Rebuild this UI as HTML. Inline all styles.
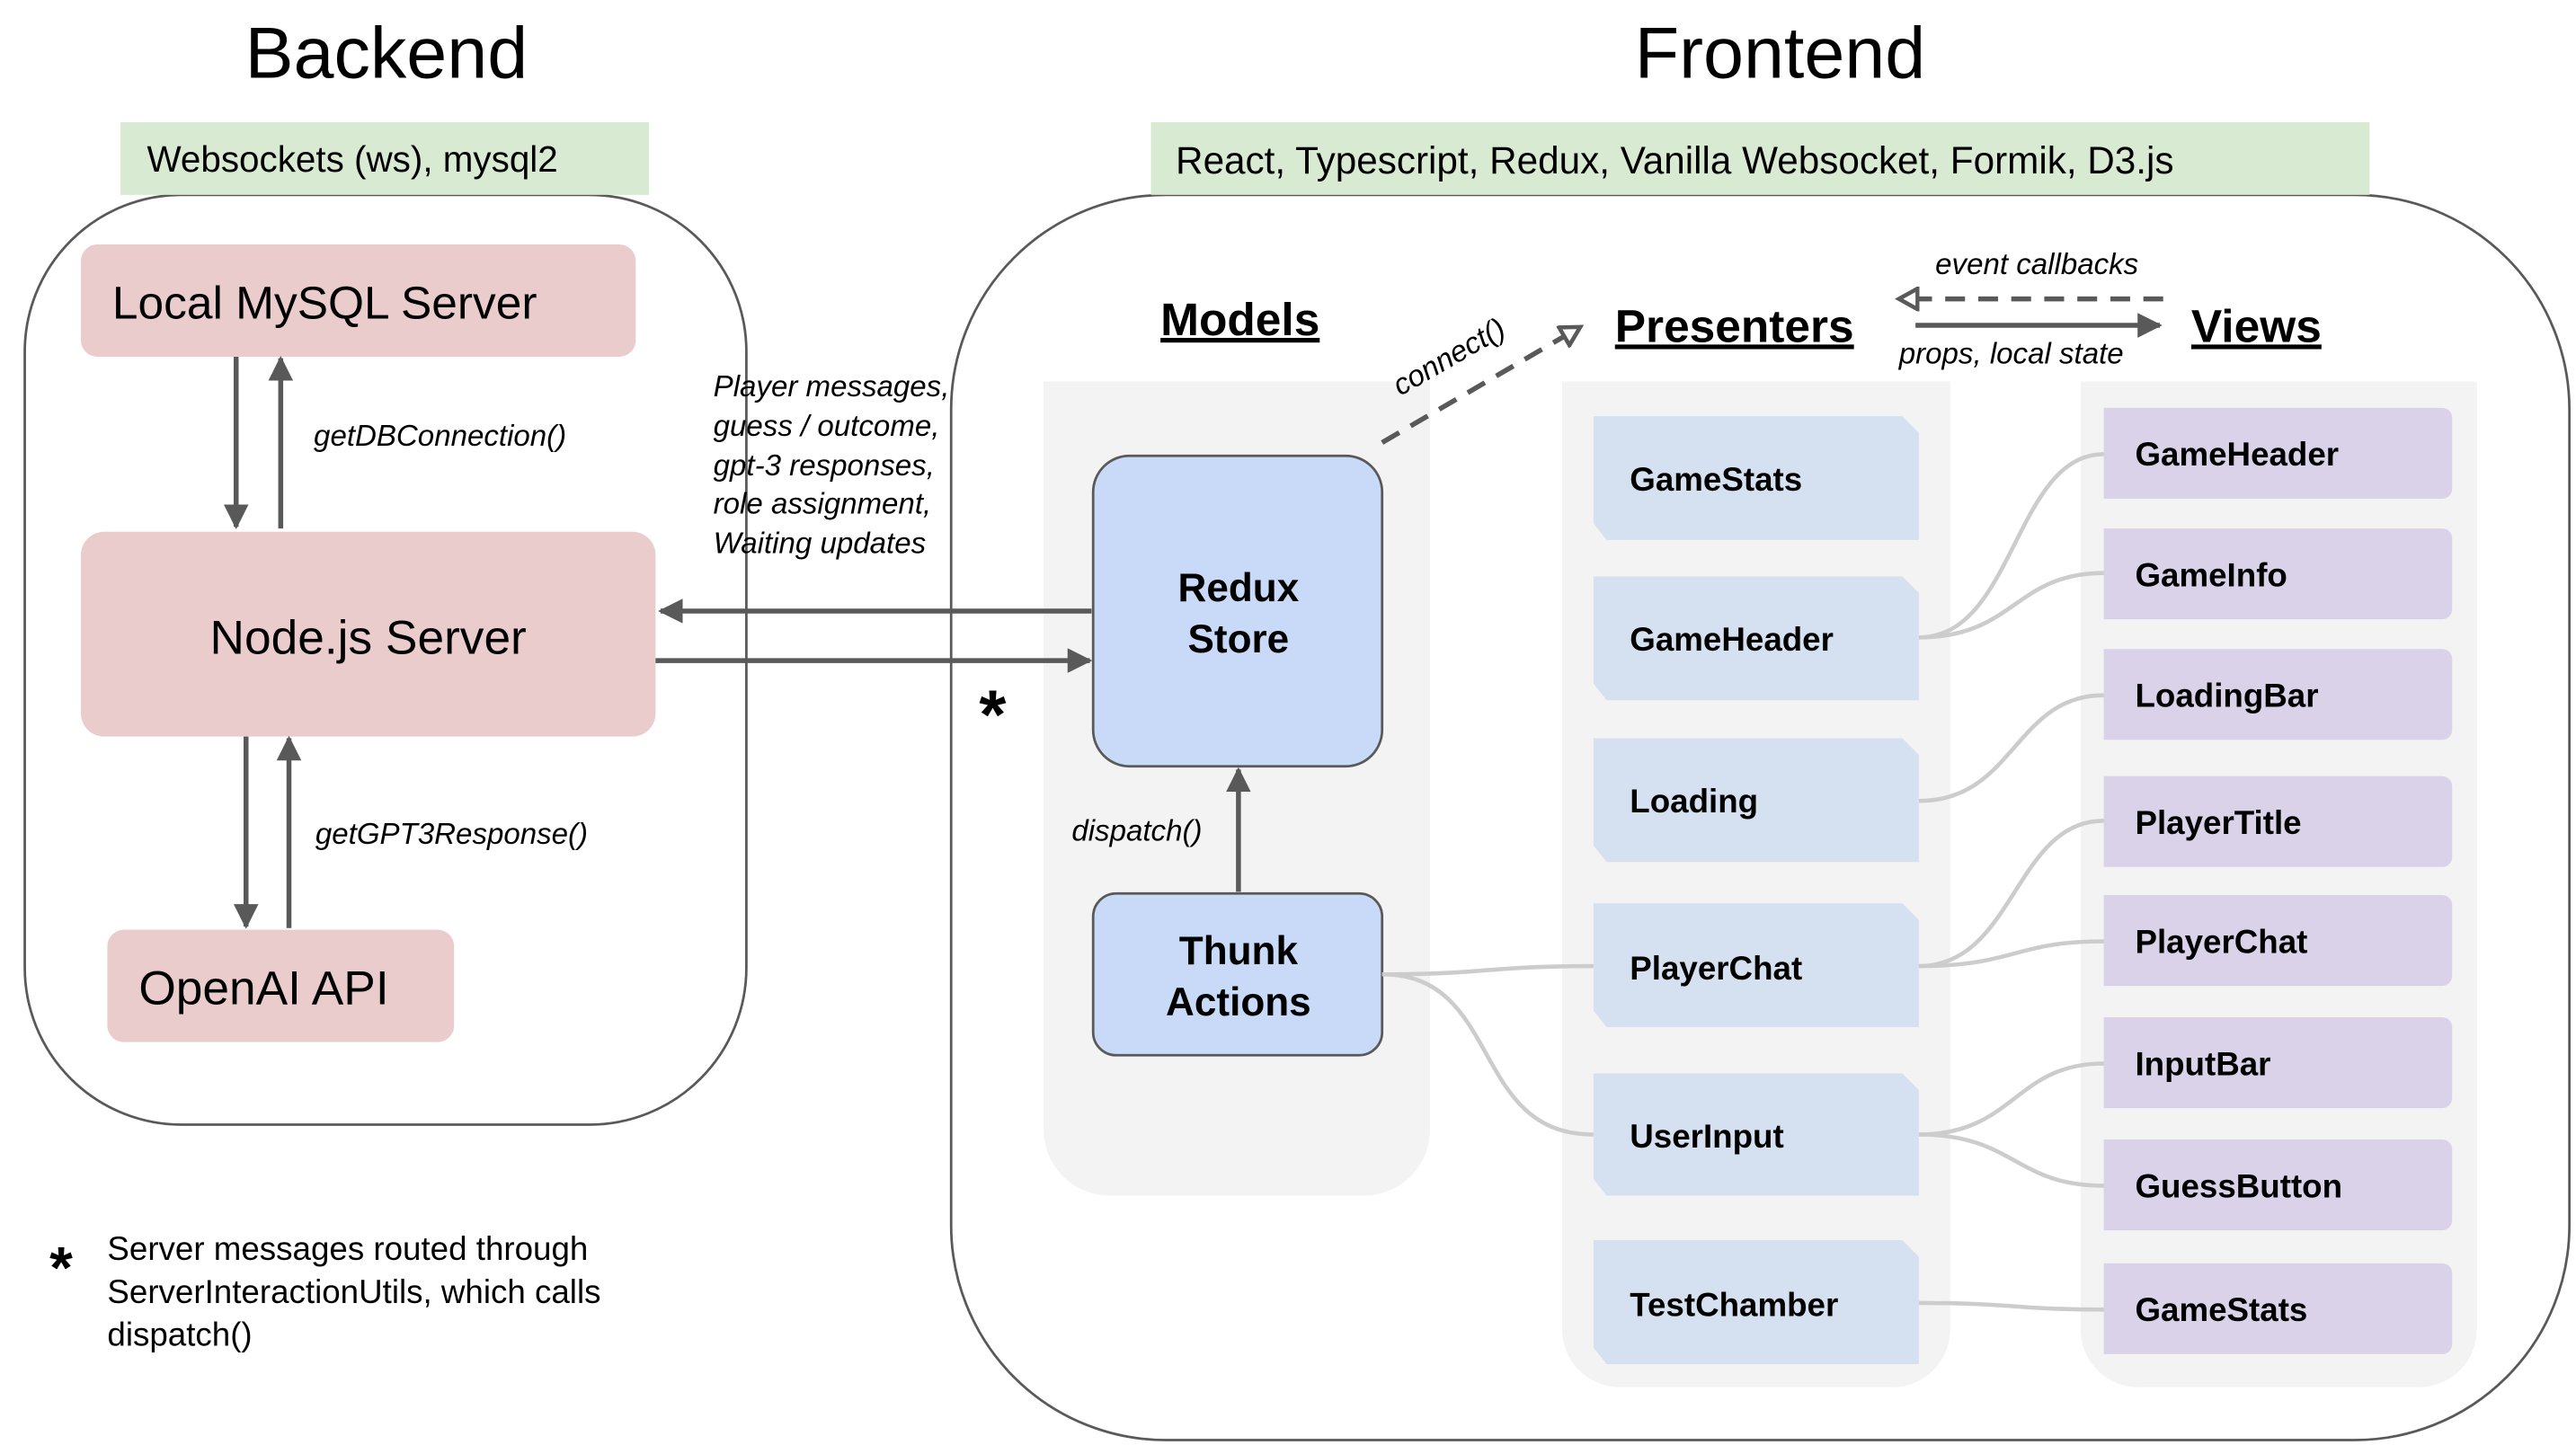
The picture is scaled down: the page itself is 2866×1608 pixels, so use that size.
<!DOCTYPE html>
<html><head><meta charset="utf-8"><style>
html,body{margin:0;padding:0;background:#fff;width:2866px;height:1608px;overflow:hidden}
svg{display:block}
text{font-family:"Liberation Sans",Arial,sans-serif;fill:#000}
.it{font-style:italic;font-size:18px}
.pb{font-weight:bold;font-size:20px}
</style></head><body>
<svg width="2866" height="1608" viewBox="0 0 1560 875" preserveAspectRatio="none" xmlns="http://www.w3.org/2000/svg">
<defs>
<marker id="ah" viewBox="0 0 10 10" refX="9" refY="5" markerWidth="5" markerHeight="5" orient="auto-start-reverse" markerUnits="strokeWidth">
<path d="M0,0 L10,5 L0,10 z" fill="#595959"/></marker>
<marker id="oh" viewBox="0 0 12 12" refX="10" refY="6" markerWidth="5" markerHeight="5" orient="auto" markerUnits="strokeWidth">
<path d="M1,1 L10,6 L1,11 z" fill="#fff" stroke="#595959" stroke-width="2"/></marker>
</defs>

<text x="234" y="47" font-size="44" text-anchor="middle">Backend</text>
<text x="1078" y="47" font-size="44" text-anchor="middle">Frontend</text>

<rect x="15" y="118" width="437" height="563" rx="95" ry="95" fill="none" stroke="#595959" stroke-width="1.5"/>
<rect x="576" y="118" width="980" height="754" rx="130" ry="130" fill="none" stroke="#595959" stroke-width="1.5"/>

<rect x="73" y="74" width="320" height="44" fill="#d9ead3"/>
<text x="89" y="104" font-size="22">Websockets (ws), mysql2</text>
<rect x="697" y="74" width="738" height="44" fill="#d9ead3"/>
<text x="712" y="105" font-size="23">React, Typescript, Redux, Vanilla Websocket, Formik, D3.js</text>

<rect x="49" y="148" width="336" height="68" rx="10" fill="#eacccc"/>
<text x="68" y="193" font-size="28">Local MySQL Server</text>
<rect x="49" y="322" width="348" height="124" rx="14" fill="#eacccc"/>
<text x="223" y="396" font-size="29" text-anchor="middle">Node.js Server</text>
<rect x="65" y="563" width="210" height="68" rx="10" fill="#eacccc"/>
<text x="84" y="608" font-size="29">OpenAI API</text>

<g stroke="#595959" stroke-width="3" fill="none">
<line x1="143" y1="216" x2="143" y2="319" marker-end="url(#ah)"/>
<line x1="170" y1="320" x2="170" y2="217" marker-end="url(#ah)"/>
<line x1="149" y1="446" x2="149" y2="561" marker-end="url(#ah)"/>
<line x1="175" y1="562" x2="175" y2="447" marker-end="url(#ah)"/>
</g>
<text class="it" x="190" y="270">getDBConnection()</text>
<text class="it" x="191" y="511">getGPT3Response()</text>
<text class="it" x="432" y="240">Player messages,</text>
<text class="it" x="432" y="264">guess / outcome,</text>
<text class="it" x="432" y="288">gpt-3 responses,</text>
<text class="it" x="432" y="311">role assignment,</text>
<text class="it" x="432" y="335">Waiting updates</text>
<text x="593" y="447" font-size="42" font-weight="bold">*</text>

<path d="M632,231 H866 V684 a40,40 0 0 1 -40,40 H672 a40,40 0 0 1 -40,-40 Z" fill="#f3f3f3"/>
<path d="M946,231 H1181 V805 a35,35 0 0 1 -35,35 H981 a35,35 0 0 1 -35,-35 Z" fill="#f3f3f3"/>
<path d="M1260,231 H1500 V805 a35,35 0 0 1 -35,35 H1295 a35,35 0 0 1 -35,-35 Z" fill="#f3f3f3"/>

<text x="751" y="203" font-size="28" font-weight="bold" text-anchor="middle" text-decoration="underline">Models</text>
<text x="978" y="207" font-size="28" font-weight="bold" text-decoration="underline">Presenters</text>
<text x="1327" y="207" font-size="28" font-weight="bold" text-decoration="underline">Views</text>

<rect x="662" y="276" width="175" height="188" rx="22" fill="#c9daf8" stroke="#595959" stroke-width="1.5"/>
<text x="750" y="364" font-size="24" font-weight="bold" text-anchor="middle">Redux</text>
<text x="750" y="395" font-size="24" font-weight="bold" text-anchor="middle">Store</text>
<rect x="662" y="541" width="175" height="98" rx="14" fill="#c9daf8" stroke="#595959" stroke-width="1.5"/>
<text x="750" y="584" font-size="24" font-weight="bold" text-anchor="middle">Thunk</text>
<text x="750" y="615" font-size="24" font-weight="bold" text-anchor="middle">Actions</text>
<text class="it" x="649" y="509">dispatch()</text>

<line x1="837" y1="268" x2="957" y2="198" stroke="#595959" stroke-width="3" stroke-dasharray="12,8" marker-end="url(#oh)"/>
<text class="it" x="848" y="240" transform="rotate(-30 848 240)">connect()</text>

<line x1="1310" y1="181" x2="1150" y2="181" stroke="#595959" stroke-width="3" stroke-dasharray="12,8" marker-end="url(#oh)"/>
<text class="it" x="1172" y="166" font-size="17">event callbacks</text>
<line x1="1160" y1="197" x2="1308" y2="197" stroke="#595959" stroke-width="3" marker-end="url(#ah)"/>
<text class="it" x="1150" y="220" font-size="17">props, local state</text>

<g stroke="#cccccc" stroke-width="2.5" fill="none">
<path d="M1162,386 C1220,386 1220,275 1274,275"/>
<path d="M1162,386 C1220,386 1220,347 1274,347"/>
<path d="M1162,485 C1220,485 1220,421 1274,421"/>
<path d="M1162,585 C1220,585 1220,497 1274,497"/>
<path d="M1162,585 C1220,585 1220,570 1274,570"/>
<path d="M1162,687 C1220,687 1220,644 1274,644"/>
<path d="M1162,687 C1220,687 1220,718 1274,718"/>
<path d="M1162,789 C1220,789 1220,793 1274,793"/>
<path d="M837,590 C900,590 900,585 965,585"/>
<path d="M837,590 C910,590 890,687 965,687"/>
</g>

<g fill="#d5e1f0">
<path d="M965,252 H1152 L1162,262 V327 H973 L965,317 Z"/>
<path d="M965,349 H1152 L1162,359 V424 H973 L965,414 Z"/>
<path d="M965,447 H1152 L1162,457 V522 H973 L965,512 Z"/>
<path d="M965,547 H1152 L1162,557 V622 H973 L965,612 Z"/>
<path d="M965,650 H1152 L1162,660 V724 H973 L965,714 Z"/>
<path d="M965,751 H1152 L1162,761 V826 H973 L965,816 Z"/>
</g>
<text class="pb" x="987" y="297">GameStats</text>
<text class="pb" x="987" y="394">GameHeader</text>
<text class="pb" x="987" y="492">Loading</text>
<text class="pb" x="987" y="593">PlayerChat</text>
<text class="pb" x="987" y="695">UserInput</text>
<text class="pb" x="987" y="797">TestChamber</text>

<g fill="#d9d2e9">
<path d="M1274,247 H1479 a6,6 0 0 1 6,6 V296 a6,6 0 0 1 -6,6 H1274 Z"/>
<path d="M1274,320 H1479 a6,6 0 0 1 6,6 V369 a6,6 0 0 1 -6,6 H1274 Z"/>
<path d="M1274,393 H1479 a6,6 0 0 1 6,6 V442 a6,6 0 0 1 -6,6 H1274 Z"/>
<path d="M1274,470 H1479 a6,6 0 0 1 6,6 V519 a6,6 0 0 1 -6,6 H1274 Z"/>
<path d="M1274,542 H1479 a6,6 0 0 1 6,6 V591 a6,6 0 0 1 -6,6 H1274 Z"/>
<path d="M1274,616 H1479 a6,6 0 0 1 6,6 V665 a6,6 0 0 1 -6,6 H1274 Z"/>
<path d="M1274,690 H1479 a6,6 0 0 1 6,6 V739 a6,6 0 0 1 -6,6 H1274 Z"/>
<path d="M1274,765 H1479 a6,6 0 0 1 6,6 V814 a6,6 0 0 1 -6,6 H1274 Z"/>
</g>
<text class="pb" x="1293" y="282">GameHeader</text>
<text class="pb" x="1293" y="355">GameInfo</text>
<text class="pb" x="1293" y="428">LoadingBar</text>
<text class="pb" x="1293" y="505">PlayerTitle</text>
<text class="pb" x="1293" y="577">PlayerChat</text>
<text class="pb" x="1293" y="651">InputBar</text>
<text class="pb" x="1293" y="725">GuessButton</text>
<text class="pb" x="1293" y="800">GameStats</text>

<g stroke="#595959" stroke-width="3" fill="none">
<line x1="661" y1="370" x2="400" y2="370" marker-end="url(#ah)"/>
<line x1="397" y1="400" x2="660" y2="400" marker-end="url(#ah)"/>
<line x1="750" y1="540" x2="750" y2="466" marker-end="url(#ah)"/>
</g>

<text x="30" y="780" font-size="36" font-weight="bold">*</text>
<text x="65" y="763" font-size="20">Server messages routed through</text>
<text x="65" y="789" font-size="20">ServerInteractionUtils, which calls</text>
<text x="65" y="815" font-size="20">dispatch()</text>
</svg>
</body></html>
